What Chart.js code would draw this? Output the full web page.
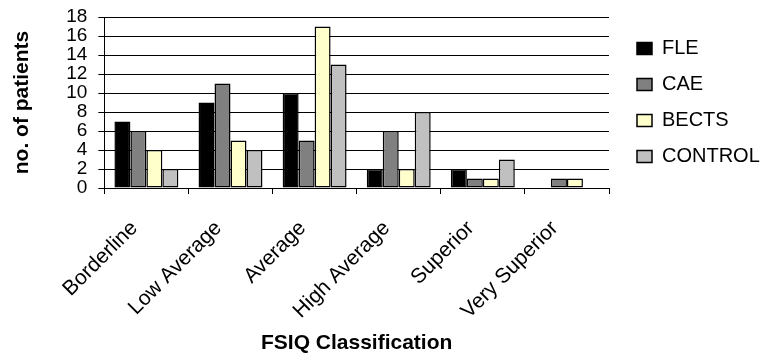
<!DOCTYPE html>
<html>
<head>
<meta charset="utf-8">
<script src="https://cdn.jsdelivr.net/npm/chart.js@4/dist/chart.umd.min.js"></script>
<style>
  html, body { margin: 0; padding: 0; background: #fff; }
  #wrap { width: 766px; height: 360px; }
</style>
</head>
<body>
<div id="wrap"><canvas id="fsiqChart"></canvas></div>
<script>
const categories = ["Borderline", "Low Average", "Average", "High Average", "Superior", "Very Superior"];
const fle = [7, 9, 10, 2, 2, 0];
const cae = [6, 11, 5, 6, 1, 1];
const bects = [4, 5, 17, 2, 1, 1];
const control = [2, 4, 13, 8, 3, 0];
const yTicks = [0, 2, 4, 6, 8, 10, 12, 14, 16, 18];

const font = "'Liberation Sans', Arial, sans-serif";

function series(label, data, color) {
    return {
        label: label,
        data: data,
        backgroundColor: color,
        borderColor: "#000000",
        borderWidth: 1.5,
        borderSkipped: false,
        categoryPercentage: 0.76,
        barPercentage: 1.0,
    };
}

const ctx = document.getElementById("fsiqChart").getContext("2d");

const chart = new Chart(ctx, {
    type: "bar",
    data: {
        labels: categories,
        datasets: [
            series("FLE", fle, "#000000"),
            series("CAE", cae, "#808080"),
            series("BECTS", bects, "#ffffcc"),
            series("CONTROL", control, "#c0c0c0"),
        ],
    },
    options: {
        responsive: true,
        maintainAspectRatio: false,
        animation: false,
        layout: {
            padding: { top: 0, right: 0, bottom: 4, left: 10 },
        },
        plugins: {
            legend: {
                position: "right",
                fullSize: false,
                maxWidth: 145,
                labels: {
                    color: "#000",
                    font: { family: font, size: 20 },
                    boxWidth: 15,
                    boxHeight: 12,
                    padding: 16,
                },
            },
            tooltip: { enabled: false },
        },
        scales: {
            x: {
                // fixed height so the labels can sit lower under the axis
                afterFit: function (scale) {
                    scale.height = 168;
                },
                grid: {
                    offset: true,
                    drawOnChartArea: false,
                    drawTicks: true,
                    tickLength: 6,
                    color: "#000",
                },
                border: { color: "#000", width: 1 },
                ticks: {
                    color: "#000",
                    font: { family: font, size: 21 },
                    minRotation: 45,
                    maxRotation: 45,
                    autoSkip: false,
                    labelOffset: -12,
                    padding: 22,
                },
                title: {
                    display: true,
                    text: "FSIQ Classification",
                    color: "#000",
                    font: { family: font, size: 21, weight: "bold" },
                    padding: { top: 0, bottom: 0 },
                },
            },
            y: {
                min: 0,
                max: 18,
                afterBuildTicks: function (scale) {
                    scale.ticks = yTicks.map((v) => ({ value: v }));
                },
                // plot top sits at 17px
                afterFit: function (scale) {
                    scale.paddingTop = 17;
                },
                grid: {
                    color: "#000",
                    lineWidth: 1,
                    drawTicks: true,
                    tickLength: 6,
                },
                border: { color: "#000", width: 1 },
                ticks: {
                    color: "#000",
                    font: { family: font, size: 19 },
                    autoSkip: false,
                    padding: 11,
                },
                title: {
                    display: true,
                    text: "no. of patients",
                    color: "#000",
                    font: { family: font, size: 21, weight: "bold" },
                    padding: { top: 0, bottom: 20 },
                },
            },
            // empty spacer between the plot and the legend
            gap: {
                type: "linear",
                position: "right",
                display: true,
                grid: { display: false },
                border: { display: false },
                ticks: { display: false },
                afterFit: function (scale) {
                    scale.width = 12;
                },
            },
        },
    },
});
</script>
</body>
</html>
